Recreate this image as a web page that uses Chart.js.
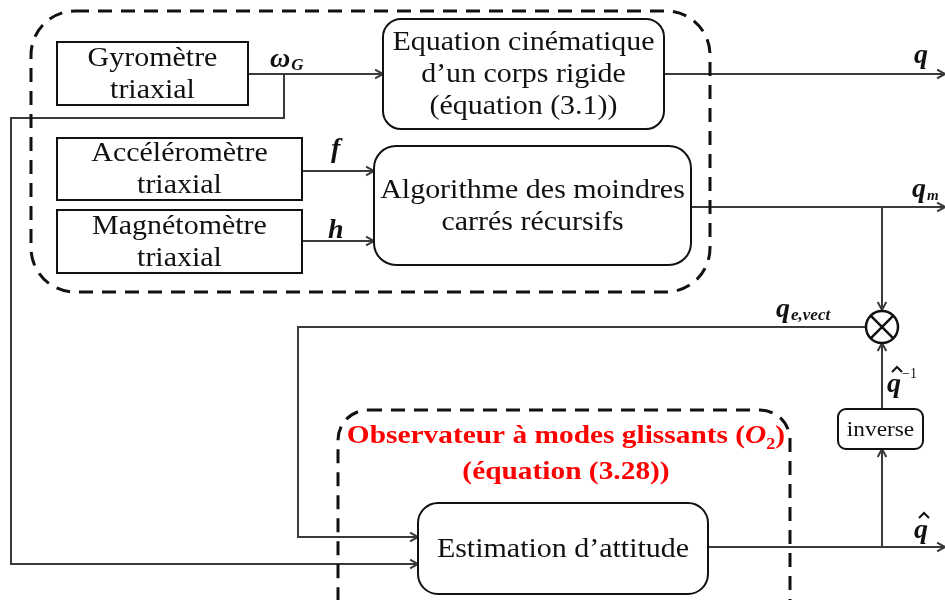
<!DOCTYPE html>
<html>
<head>
<meta charset="utf-8">
<script src="https://cdn.jsdelivr.net/npm/chart.js@4.4.0/dist/chart.umd.min.js"></script>
<style>
  html, body { margin: 0; padding: 0; background: #fff; }
  #wrap { width: 945px; height: 600px; }
</style>
</head>
<body>
<div id="wrap"><canvas id="diagram"></canvas></div>
<script>
// blocks: text lines and their corners (x0, y0, x1, y1) on the diagram scale
const blockText = [
    ['Gyromètre', 'triaxial'],
    ['Accéléromètre', 'triaxial'],
    ['Magnétomètre', 'triaxial'],
    ['Equation cinématique', 'd’un corps rigide', '(équation (3.1))'],
    ['Algorithme des moindres', 'carrés récursifs'],
    ['Estimation d’attitude'],
    ['inverse']
];
const blockBounds = [
    [57, 42, 248, 105],
    [57, 138, 302, 200],
    [57, 210, 302, 273],
    [383, 19, 664, 129],
    [374, 146, 691, 265],
    [418, 503, 708, 594],
    [838, 409, 923, 449]
];
const blockRound = [0, 0, 0, 18, 22, 20, 8];

// dashed groups
const groupBounds = [[31, 11, 710, 292], [338, 410, 790, 640]];
const groupTitle = ['Observateur à modes glissants (', 'O', '2', ')'];
const groupTitle2 = '(équation (3.28))';

// signal wires, each ends with an arrow
const wires = [
    [[248, 74], [383, 74]],
    [[284, 74], [284, 118], [11, 118], [11, 564], [418, 564]],
    [[302, 171], [374, 171]],
    [[302, 241], [374, 241]],
    [[664, 74], [945, 74]],
    [[691, 207], [945, 207]],
    [[882, 207], [882, 310]],
    [[866, 327], [298, 327], [298, 537], [418, 537]],
    [[708, 547], [945, 547]],
    [[882, 547], [882, 449]],
    [[882, 409], [882, 343]]
];
const junction = [882, 327];

// signal names: main symbol, subscript, superscript, hat, anchor (baseline)
const signalMain = ['ω', 'f', 'h', 'q', 'q', 'q', 'q', 'q'];
const signalSub = ['G', '', '', '', 'm', 'e,vect', '', ''];
const signalSup = ['', '', '', '', '', '', '−1', ''];
const signalHat = [false, false, false, false, false, false, true, true];
const signalAt = [[270, 67], [331, 157], [328, 238], [914, 63], [912, 197], [776, 317], [887, 392], [914, 538]];

const serif = '"Liberation Serif", "DejaVu Serif", serif';
const stretch = 1.11;

function wideText(ctx, t, x, y, k) {
    ctx.save();
    ctx.translate(x, y);
    ctx.scale(k, 1);
    ctx.fillText(t, 0, 0);
    ctx.restore();
}

function arrowHead(ctx, x0, y0, x1, y1) {
    const a = Math.atan2(y1 - y0, x1 - x0);
    const len = 9, spread = 0.5;
    ctx.beginPath();
    ctx.moveTo(x1 - len * Math.cos(a - spread), y1 - len * Math.sin(a - spread));
    ctx.lineTo(x1, y1);
    ctx.lineTo(x1 - len * Math.cos(a + spread), y1 - len * Math.sin(a + spread));
    ctx.stroke();
}

function roundRect(ctx, x0, y0, x1, y1, r) {
    ctx.beginPath();
    if (r > 0) ctx.roundRect(x0, y0, x1 - x0, y1 - y0, r);
    else ctx.rect(x0, y0, x1 - x0, y1 - y0);
}

const diagramPlugin = {
    id: 'diagram',
    afterDatasetsDraw(chart) {
        const ctx = chart.ctx;
        const sx = chart.scales.x, sy = chart.scales.y;
        const X = v => sx.getPixelForValue(v);
        const Y = v => sy.getPixelForValue(v);
        ctx.save();

        // arrowheads
        ctx.strokeStyle = '#3a3a3a';
        ctx.lineWidth = 2;
        wires.forEach(w => {
            const p = w[w.length - 2], q = w[w.length - 1];
            arrowHead(ctx, X(p[0]), Y(p[1]), X(q[0]), Y(q[1]));
        });

        // blocks
        ctx.strokeStyle = '#111';
        ctx.lineWidth = 2;
        ctx.textAlign = 'center';
        ctx.textBaseline = 'middle';
        blockBounds.forEach((b, i) => {
            roundRect(ctx, X(b[0]), Y(b[1]), X(b[2]), Y(b[3]), blockRound[i]);
            ctx.fillStyle = '#fff';
            ctx.fill();
            ctx.stroke();
            ctx.fillStyle = '#111';
            const lines = blockText[i];
            const size = i === 6 ? 21 : 27;
            const gap = 32;
            ctx.font = size + 'px ' + serif;
            const cx = (X(b[0]) + X(b[2])) / 2;
            const cy = (Y(b[1]) + Y(b[3])) / 2;
            lines.forEach((t, k) => {
                wideText(ctx, t, cx, cy + (k - (lines.length - 1) / 2) * gap + 1, stretch);
            });
        });

        // dashed groups
        ctx.strokeStyle = '#111';
        ctx.lineWidth = 3;
        ctx.setLineDash([14, 9]);
        groupBounds.forEach((b, i) => {
            roundRect(ctx, X(b[0]), Y(b[1]), X(b[2]), Y(b[3]), i === 0 ? 44 : 30);
            ctx.stroke();
        });
        ctx.setLineDash([]);

        // junction (multiplier)
        const jx = X(junction[0]), jy = Y(junction[1]);
        ctx.lineWidth = 2.5;
        ctx.beginPath();
        ctx.arc(jx, jy, 16, 0, Math.PI * 2);
        ctx.fillStyle = '#fff';
        ctx.fill();
        ctx.stroke();
        const d = 16 * Math.SQRT1_2;
        ctx.beginPath();
        ctx.moveTo(jx - d, jy - d); ctx.lineTo(jx + d, jy + d);
        ctx.moveTo(jx + d, jy - d); ctx.lineTo(jx - d, jy + d);
        ctx.stroke();

        // group titles in red
        const ks = 1.13;
        ctx.fillStyle = '#ff0000';
        ctx.textBaseline = 'alphabetic';
        ctx.textAlign = 'left';
        const big = 'bold 26px ' + serif;
        const it = 'bold italic 26px ' + serif;
        const small = 'bold 16px ' + serif;
        ctx.font = big;
        const w0 = ctx.measureText(groupTitle[0]).width * ks;
        ctx.font = it;
        const w1 = ctx.measureText(groupTitle[1]).width * ks;
        ctx.font = small;
        const w2 = ctx.measureText(groupTitle[2]).width * ks;
        ctx.font = big;
        const w3 = ctx.measureText(groupTitle[3]).width * ks;
        let tx = X(566) - (w0 + w1 + w2 + w3) / 2;
        const ty = Y(443);
        ctx.font = big; wideText(ctx, groupTitle[0], tx, ty, ks); tx += w0;
        ctx.font = it; wideText(ctx, groupTitle[1], tx, ty, ks); tx += w1;
        ctx.font = small; wideText(ctx, groupTitle[2], tx, ty + 6, ks); tx += w2;
        ctx.font = big; wideText(ctx, groupTitle[3], tx, ty, ks);
        ctx.textAlign = 'center';
        wideText(ctx, groupTitle2, X(566), Y(479), ks);

        // signal names
        ctx.fillStyle = '#111';
        ctx.strokeStyle = '#111';
        ctx.textAlign = 'left';
        signalMain.forEach((m, i) => {
            const x = X(signalAt[i][0]), y = Y(signalAt[i][1]);
            ctx.font = 'bold italic 28px ' + serif;
            ctx.fillText(m, x, y);
            const mw = ctx.measureText(m).width;
            if (signalHat[i]) {
                const hx = x + mw / 2 + 3, hy = y - 25;
                ctx.lineWidth = 2;
                ctx.beginPath();
                ctx.moveTo(hx - 5, hy + 5);
                ctx.lineTo(hx, hy);
                ctx.lineTo(hx + 5, hy + 5);
                ctx.stroke();
            }
            if (signalSub[i]) {
                ctx.font = 'bold italic ' + (i === 4 ? 15 : 17) + 'px ' + serif;
                ctx.fillText(signalSub[i], x + mw + 1, y + 3);
            }
            if (signalSup[i]) {
                ctx.font = '14px ' + serif;
                ctx.fillText(signalSup[i], x + mw + 1, y - 14);
            }
        });
        ctx.restore();
    }
};

new Chart(document.getElementById('diagram'), {
    type: 'scatter',
    data: {
        datasets: wires.map(w => ({
            data: w.map(p => ({ x: p[0], y: p[1] })),
            showLine: true,
            borderColor: '#3a3a3a',
            borderWidth: 2,
            pointRadius: 0,
            tension: 0
        }))
    },
    options: {
        responsive: true,
        maintainAspectRatio: false,
        animation: false,
        layout: { padding: 0 },
        plugins: { legend: { display: false }, tooltip: { enabled: false } },
        scales: {
            x: { type: 'linear', min: 0, max: 945, display: false },
            y: { type: 'linear', min: 0, max: 600, reverse: true, display: false }
        }
    },
    plugins: [diagramPlugin]
});
</script>
</body>
</html>
